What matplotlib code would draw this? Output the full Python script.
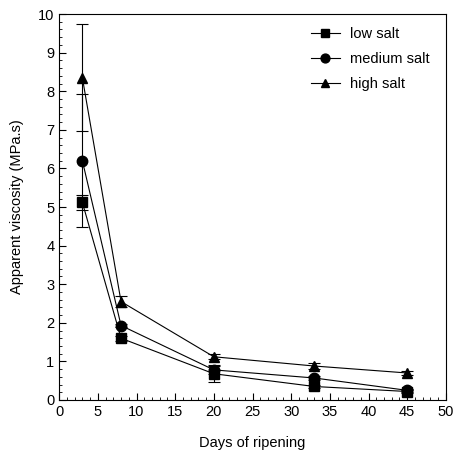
import matplotlib
matplotlib.use("Agg")
import matplotlib.pyplot as plt
from matplotlib.ticker import MultipleLocator

plt.rcParams['font.family'] = ['Liberation Sans', 'DejaVu Sans']

days = [3, 8, 20, 33, 45]
low_salt = [5.12, 1.60, 0.68, 0.35, 0.22]
low_err = [0.20, 0.06, 0.22, 0.05, 0.03]
medium_salt = [6.20, 1.93, 0.78, 0.57, 0.25]
medium_err = [1.73, 0.05, 0.10, 0.05, 0.03]
high_salt = [8.35, 2.55, 1.12, 0.88, 0.70]
high_err = [1.38, 0.15, 0.06, 0.08, 0.04]

fig = plt.figure(figsize=(4.55, 4.53), dpi=100)
ax = fig.add_axes([0.130, 0.117, 0.850, 0.852])

style = dict(color='black', lw=0.8, ms=7.5, capsize=4, elinewidth=0.8, capthick=0.8)
e1 = ax.errorbar(days, low_salt, yerr=low_err, marker='s', label='low salt', **style)
e2 = ax.errorbar(days, medium_salt, yerr=medium_err, marker='o', label='medium salt', **style)
e3 = ax.errorbar(days, high_salt, yerr=high_err, marker='^', label='high salt', **style)

ax.set_xlim(0, 50)
ax.set_ylim(0, 10)
ax.xaxis.set_major_locator(MultipleLocator(5))
ax.xaxis.set_minor_locator(MultipleLocator(1))
ax.yaxis.set_major_locator(MultipleLocator(1))
ax.yaxis.set_minor_locator(MultipleLocator(0.2))
ax.tick_params(which='both', direction='in', top=False, right=False, labelsize=10.5)
ax.tick_params(which='major', length=5)
ax.tick_params(which='minor', length=2.5)
for s in ax.spines.values():
    s.set_linewidth(0.8)

ax.set_xlabel('Days of ripening', fontsize=10.5, labelpad=12)
ax.set_ylabel('Apparent viscosity (MPa.s)', fontsize=10.5, labelpad=10)

# legend without error bars
leg = ax.legend([e1[0], e2[0], e3[0]], ['low salt', 'medium salt', 'high salt'],
                loc='upper left', frameon=False, fontsize=10.5, handlelength=2.0,
                handletextpad=0.7, labelspacing=0.75, markerscale=0.85,
                bbox_to_anchor=(0.617, 1.0))

fig.savefig('out.png', dpi=100)
